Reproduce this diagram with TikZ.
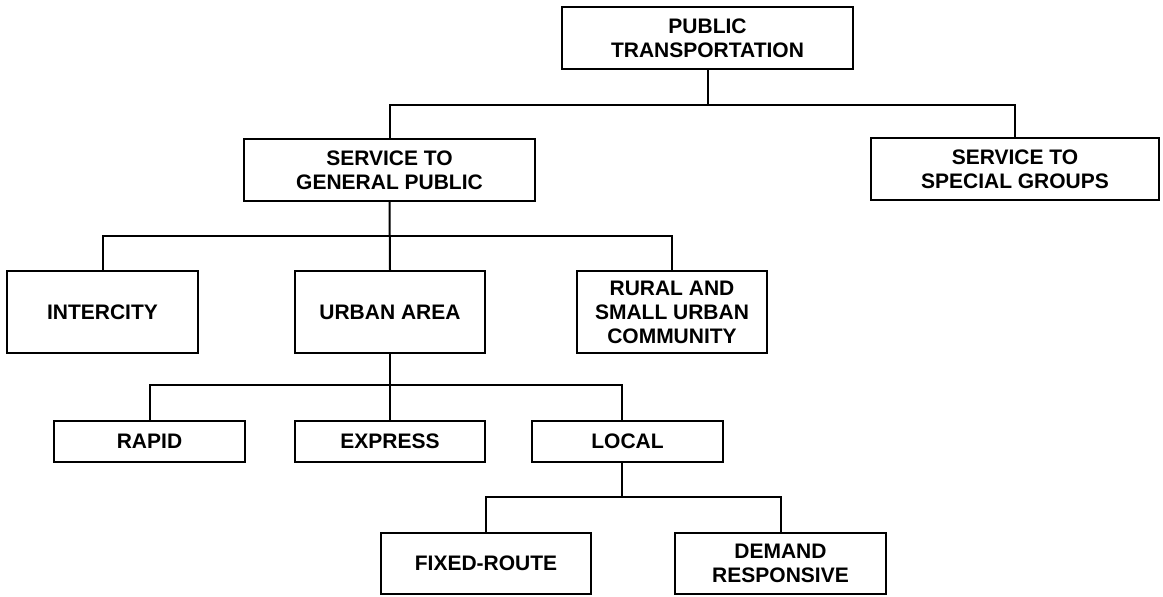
\documentclass[tikz,border=0pt]{standalone}
\usepackage{fontspec}
\setmainfont{Liberation Sans}
\begin{document}
\begin{tikzpicture}[x=1pt,y=-1pt,
  box/.style={draw=black, line width=2pt, inner sep=0pt, align=center,
    font=\fontsize{21}{24}\selectfont\bfseries},
  conn/.style={draw=black, line width=2pt}]
\useasboundingbox (0,0) rectangle (1163,597);
\node[box, minimum width=291, minimum height=62] (pt) at (707.5,38) {PUBLIC\\TRANSPORTATION};
\node[box, minimum width=291, minimum height=62] (sgp) at (389.5,170) {SERVICE TO\\GENERAL PUBLIC};
\node[box, minimum width=288, minimum height=62] (ssg) at (1015,169) {SERVICE TO\\SPECIAL GROUPS};
\node[box, minimum width=191, minimum height=82] (inter) at (102.5,312) {INTERCITY};
\node[box, minimum width=190, minimum height=82] (urban) at (390,312) {URBAN AREA};
\node[box, minimum width=190, minimum height=82] (rural) at (672,312) {RURAL AND\\SMALL URBAN\\COMMUNITY};
\node[box, minimum width=191, minimum height=41] (rapid) at (149.5,441.5) {RAPID};
\node[box, minimum width=190, minimum height=41] (express) at (390,441.5) {EXPRESS};
\node[box, minimum width=191, minimum height=41] (local) at (627.5,441.5) {LOCAL};
\node[box, minimum width=210, minimum height=61] (fixed) at (486,563.5) {FIXED-ROUTE};
\node[box, minimum width=211, minimum height=61] (demand) at (780.5,563.5) {DEMAND\\RESPONSIVE};
\coordinate (b1) at (707.5,105);
\coordinate (b2) at (389.5,236);
\coordinate (b3) at (390,385);
\coordinate (b4) at (622,497);
\draw[conn] (pt.south) -- (b1);
\draw[conn] (sgp.north) |- (b1) -| (ssg.north);
\draw[conn] (sgp.south) -- (urban.north);
\draw[conn] (inter.north) |- (b2) -| (rural.north);
\draw[conn] (urban.south) -- (express.north);
\draw[conn] (rapid.north) |- (b3) -| ([xshift=-5.5pt]local.north);
\draw[conn] ([xshift=-5.5pt]local.south) -- (b4);
\draw[conn] (fixed.north) |- (b4) -| (demand.north);
\end{tikzpicture}
\end{document}
